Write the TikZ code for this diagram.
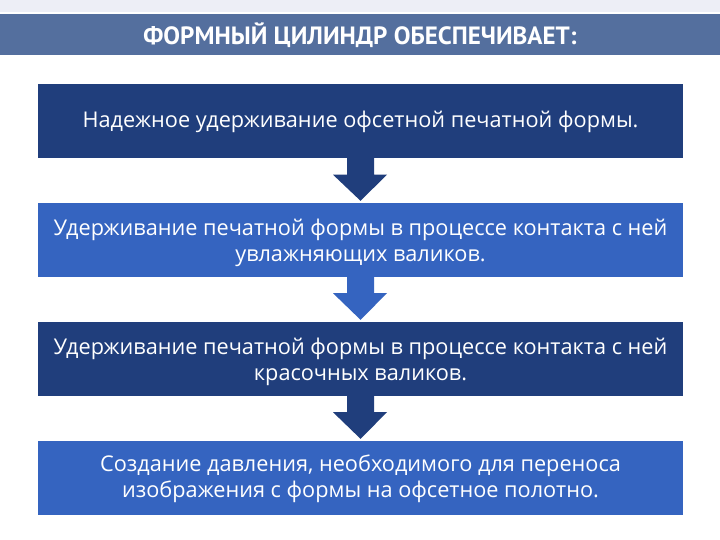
\documentclass[tikz,border=0pt]{standalone}
\usepackage{fontspec}
\setmainfont{Open Sans}
\newfontfamily\titlefont{PT Sans}
\usetikzlibrary{calc}
\definecolor{darkbox}{RGB}{32,62,124}
\definecolor{lightbox}{RGB}{53,100,192}
\definecolor{titlebar}{RGB}{84,111,158}
\definecolor{topstrip}{RGB}{237,238,246}
\begin{document}
\begin{tikzpicture}[x=1pt,y=-1pt,
  boxnode/.style={minimum width=645pt,minimum height=74pt,inner sep=0pt,text=white,
    align=center,font=\fontsize{21.7}{26}\selectfont},
  boxtext/.style={text=white,align=center,inner sep=0pt,font=\fontsize{21.7}{26}\selectfont}]
\useasboundingbox (0,0) rectangle (720,540);
\fill[white] (0,0) rectangle (720,540);
\fill[topstrip] (0,0) rectangle (720,12);
\fill[titlebar] (0,14) rectangle (720,55);
\node[text=white,font=\titlefont\bfseries\fontsize{25}{28}\selectfont] (title) at (360,35) {ФОРМНЫЙ ЦИЛИНДР ОБЕСПЕЧИВАЕТ:};

\node[boxnode,fill=darkbox] (b1) at (360.5,121.5) {Надежное удерживание офсетной печатной формы.};
\node[boxnode,fill=lightbox] (b2) at (360.5,240) {};
\node[boxnode,fill=darkbox] (b3) at (360.5,359) {};
\node[boxnode,fill=lightbox] (b4) at (360.5,478) {};
\node[boxtext] (t2) at ($(b2.center)+(0,3)$) {Удерживание печатной формы в процессе контакта с ней\\увлажняющих валиков.};
\node[boxtext] (t3) at ($(b3.center)+(0,3)$) {Удерживание печатной формы в процессе контакта с ней\\красочных валиков.};
\node[boxtext] (t4) at ($(b4.center)+(0,1)$) {Создание давления, необходимого для переноса\\изображения с формы на офсетное полотно.};

\foreach \a/\b/\c in {b1/b2/darkbox, b2/b3/lightbox, b3/b4/darkbox}{
  \fill[\c] ($(\a.south)+(-13.5,-6)$) -- ($(\a.south)+(13.5,-6)$) -- ($(\a.south)+(13.5,16)$)
    -- ($(\a.south)+(26.5,16)$) -- ($(\b.north)+(0,-2)$) -- ($(\a.south)+(-27.5,16)$)
    -- ($(\a.south)+(-13.5,16)$) -- cycle;
}
\end{tikzpicture}
\end{document}
